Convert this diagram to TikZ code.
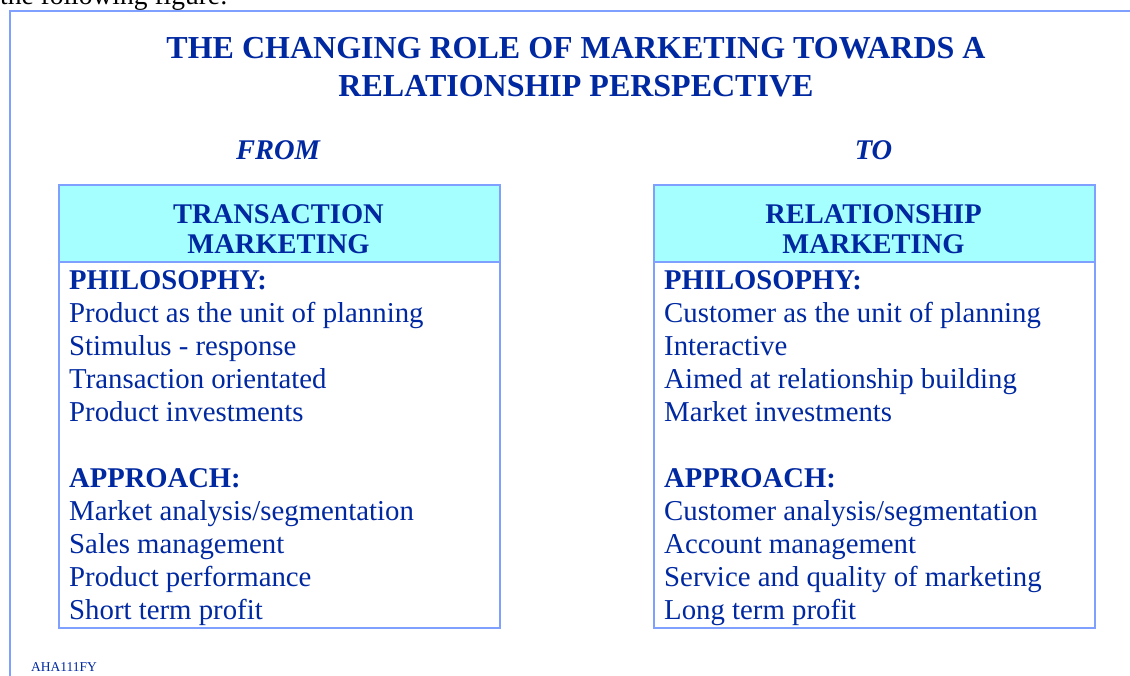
\documentclass[tikz,border=0pt]{standalone}
\usepackage{fontspec}
\setmainfont{Liberation Serif}
\definecolor{ink}{RGB}{0,40,160}
\definecolor{rulecol}{RGB}{128,160,255}
\definecolor{headfill}{RGB}{166,255,255}
\begin{document}
\begin{tikzpicture}[x=1pt,y=-1pt,
  body/.style={inner sep=0pt, anchor=base west, text=ink, font=\fontsize{28.8}{33}\selectfont},
  bodybold/.style={body, font=\fontsize{28.6}{33}\selectfont\bfseries},
  headtxt/.style={inner sep=0pt, anchor=base, text=ink, font=\fontsize{28.5}{30}\selectfont\bfseries},
  titletxt/.style={inner sep=0pt, anchor=base, text=ink, font=\fontsize{32}{38}\selectfont\bfseries},
  sidetxt/.style={inner sep=0pt, anchor=base, text=ink, font=\fontsize{28.5}{30}\selectfont\bfseries\itshape},
  panel/.style={draw=rulecol, line width=1.5pt, inner sep=0pt, anchor=north west, minimum width=441pt, minimum height=443pt},
  headband/.style={fill=headfill, draw=rulecol, line width=1.5pt, inner sep=0pt, anchor=north west, minimum width=441pt, minimum height=77pt}]
\useasboundingbox (0,0) rectangle (1130,675);
\clip (0,0) rectangle (1130,675);

% caption line above the frame, partly cut off
\node[inner sep=0pt, anchor=base west, text=black, font=\fontsize{27.5}{30}\selectfont] (lead) at (0,4) {the following figure:};

% outer frame
\draw[rulecol, line width=2pt] (10,690) -- (10,11) -- (1140,11);

% title
\node[titletxt] (title1) at (576,58) {THE CHANGING ROLE OF MARKETING TOWARDS A};
\node[titletxt] (title2) at (576,96) {RELATIONSHIP PERSPECTIVE};

\node[sidetxt] (from) at (278,159) {FROM};
\node[sidetxt] (to) at (873.5,159) {TO};

% left panel
\node[headband] (thead) at (58,184) {};
\node[panel] (tbox) at (58,184) {};
\node[headtxt] (th1) at (278.5,223) {TRANSACTION};
\node[headtxt] (th2) at (278.5,253) {MARKETING};

% right panel
\node[headband] (rhead) at (653,184) {};
\node[panel] (rbox) at (653,184) {};
\node[headtxt] (rh1) at (873.5,223) {RELATIONSHIP};
\node[headtxt] (rh2) at (873.5,253) {MARKETING};

% left panel text
\node[bodybold] (tphil) at (69,289) {PHILOSOPHY:};
\foreach \t [count=\i] in {Product as the unit of planning, Stimulus - response, Transaction orientated, Product investments}
  \node[body] (tp\i) at (69,{289+33*\i}) {\t};
\node[bodybold] (tappr) at (69,487) {APPROACH:};
\foreach \t [count=\i] in {Market analysis/segmentation, Sales management, Product performance, Short term profit}
  \node[body] (ta\i) at (69,{487+33*\i}) {\t};

% right panel text
\node[bodybold] (rphil) at (664,289) {PHILOSOPHY:};
\foreach \t [count=\i] in {Customer as the unit of planning, Interactive, Aimed at relationship building, Market investments}
  \node[body] (rp\i) at (664,{289+33*\i}) {\t};
\node[bodybold] (rappr) at (664,487) {APPROACH:};
\foreach \t [count=\i] in {Customer analysis/segmentation, Account management, Service and quality of marketing, Long term profit}
  \node[body] (ra\i) at (664,{487+33*\i}) {\t};

% slide code
\node[inner sep=0pt, anchor=base west, text=ink, font=\fontsize{13.5}{15}\selectfont] (code) at (31,671) {AHA111FY};
\end{tikzpicture}
\end{document}
